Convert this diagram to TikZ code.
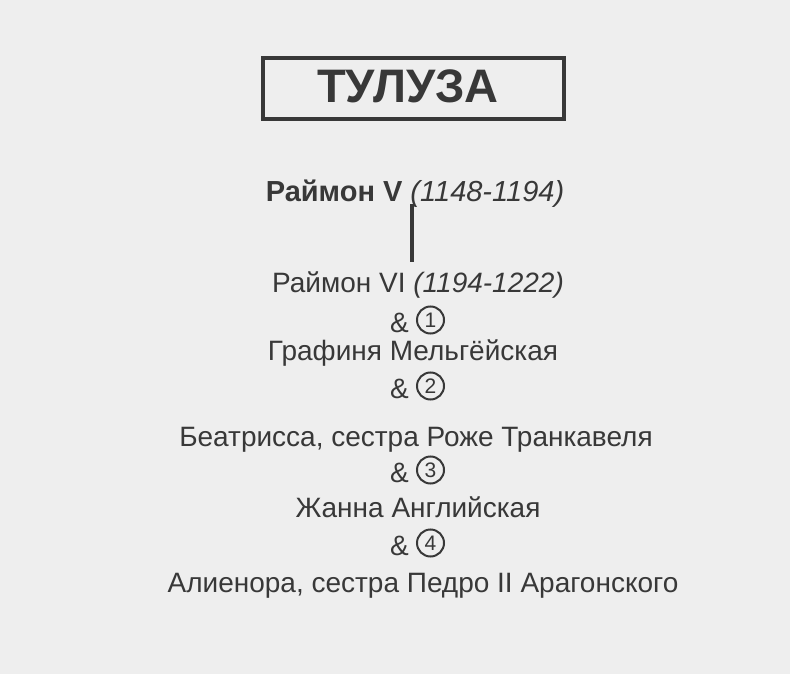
\documentclass[tikz,border=0pt]{standalone}
\usepackage{fontspec}
\setmainfont{Liberation Sans}
\definecolor{ink}{HTML}{383838}
\definecolor{paper}{HTML}{EEEEEE}
\tikzset{
  txt/.style={anchor=base, inner sep=0pt, text=ink, font=\fontsize{28}{32}\selectfont},
  hdr/.style={txt, font=\fontsize{29}{32}\selectfont\bfseries},
  ampsym/.style={txt, anchor=base east},
  numc/.style={circle, draw=ink, line width=2pt, minimum size=27pt, inner sep=0pt, text=ink, font=\fontsize{21}{22}\selectfont, anchor=west},
  titlebox/.style={draw=ink, line width=3.2pt, minimum width=301pt, minimum height=61pt, inner sep=0pt},
}
\begin{document}
\begin{tikzpicture}[x=1pt,y=-1pt]
\fill[paper] (0,0) rectangle (790,674);
\useasboundingbox (0,0) rectangle (790,674);
\node[titlebox] (box) at (413.5,88.5) {};
\node[txt, font=\fontsize{47}{52}\selectfont\bfseries] (title) at (408,103) {ТУЛУЗА};
\node[hdr] (r5) at (415,201) {Раймон V \textit{\mdseries(1148-1194)}};
\node[txt] (r6) at (418,292) {Раймон VI \textit{(1194-1222)}};
\node[ampsym] (m1) at (409,332) {\&};
\node[numc] (c1) at ([xshift=7pt,yshift=12pt]m1.base east) {1};
\node[txt] (w1) at (413,360) {Графиня Мельгёйская};
\node[ampsym] (m2) at (409,398) {\&};
\node[numc] (c2) at ([xshift=7pt,yshift=12pt]m2.base east) {2};
\node[txt] (w2) at (416,446) {Беатрисса, сестра Роже Транкавеля};
\node[ampsym] (m3) at (409,482) {\&};
\node[numc] (c3) at ([xshift=7pt,yshift=12pt]m3.base east) {3};
\node[txt] (w3) at (418,517) {Жанна Английская};
\node[ampsym] (m4) at (409,555) {\&};
\node[numc] (c4) at ([xshift=7pt,yshift=12pt]m4.base east) {4};
\node[txt] (w4) at (423,592) {Алиенора, сестра Педро II Арагонского};
\draw[ink, line width=3.2pt] ([xshift=-3pt,yshift=-3pt]r5.base) -- ([xshift=-6pt,yshift=30pt]r6.base);
\end{tikzpicture}
\end{document}
